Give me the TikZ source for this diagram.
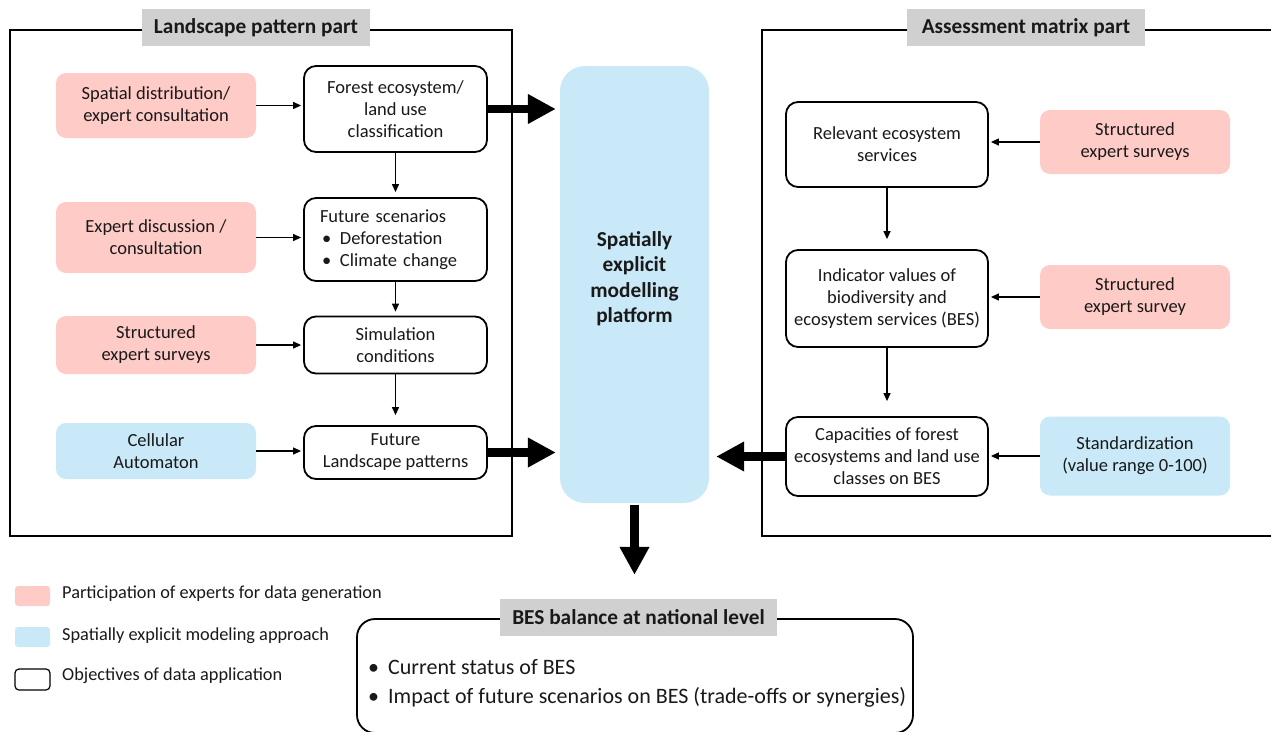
\documentclass[tikz,border=0pt]{standalone}
\usepackage{fontspec}
\setmainfont{Carlito}
\usetikzlibrary{arrows.meta}
\definecolor{expertpink}{RGB}{255,203,199}
\definecolor{modelblue}{RGB}{201,232,248}
\definecolor{titlegray}{RGB}{208,208,208}

\begin{document}
\begin{tikzpicture}[x=1pt,y=1pt,yscale=-1,
	every node/.style={font=\fontsize{18.5}{22}\selectfont,text=black!90},
	whitebox/.style={draw,line width=1.8pt,rounded corners=12pt,fill=white,align=center,inner sep=0pt},
	pinkbox/.style={fill=expertpink,rounded corners=10pt,align=center,inner sep=0pt},
	bluebox/.style={fill=modelblue,rounded corners=10pt,align=center,inner sep=0pt},
	parttitle/.style={fill=titlegray,inner sep=0pt,font=\bfseries\fontsize{21.3}{24}\selectfont},
	legendtext/.style={anchor=west,inner sep=0pt,font=\fontsize{18.3}{20}\selectfont},
	frame/.style={line width=1.5pt},
	flow/.style={line width=1.2pt,-{Triangle[length=8pt,width=7pt]},shorten >=2pt},
	bigflow/.style={line width=8.5pt,-{Triangle[length=28pt,width=28pt]},shorten >=4pt}]

	\useasboundingbox (0,0) rectangle (1271,731);

	\draw[frame] (10,30) rectangle (512,536);
	\draw[frame] (1271,30) -| (762,536) -- (1271,536);

	\node (landtitle) at (256,27.5) [parttitle,minimum width=228pt,minimum height=37pt] {Landscape pattern part};
	\node (matrixtitle) at (1026,27.5) [parttitle,minimum width=238pt,minimum height=37pt] {Assessment matrix part};

	\node (spatial) at (156,105.5) [pinkbox,minimum width=200pt,minimum height=65pt] {Spatial distribution/\\expert consultation};
	\node (discussion) at (156,237.5) [pinkbox,minimum width=200pt,minimum height=71pt] {Expert discussion /\\consultation};
	\node (surveysL) at (156,345) [pinkbox,minimum width=200pt,minimum height=58pt] {Structured\\expert surveys};
	\node (cellular) at (156,451) [bluebox,minimum width=200pt,minimum height=56pt] {Cellular\\Automaton};

	\node (forest) at (395.5,109) [whitebox,minimum width=183pt,minimum height=86pt] {Forest ecosystem/\\land use\\classification};
	\node (scenarios) at (395.5,239.5) [whitebox,align=left,text width=151pt,inner xsep=16pt,minimum height=83pt] {Future scenarios\\\hspace*{2pt}\makebox[18pt][l]{\textbullet}Deforestation\\\hspace*{2pt}\makebox[18pt][l]{\textbullet}Climate change};
	\node (simulation) at (395.5,345) [whitebox,minimum width=183pt,minimum height=57pt] {Simulation\\conditions};
	\node (future) at (395.5,452.5) [whitebox,minimum width=183pt,minimum height=53pt] {Future\\Landscape patterns};

	\node (platform) at (634.5,284.5) [bluebox,rounded corners=25pt,minimum width=149pt,minimum height=437pt,font=\bfseries\fontsize{21.3}{25.5}\selectfont] {Spatially\\explicit\\modelling\\platform\\[-11pt]\mbox{}};

	\node (relevant) at (887,144.5) [whitebox,minimum width=202pt,minimum height=85pt] {Relevant ecosystem\\services};
	\node (indicator) at (887,298.5) [whitebox,minimum width=202pt,minimum height=97pt] {Indicator values of\\biodiversity and\\ecosystem services (BES)};
	\node (capacities) at (887,456.5) [whitebox,minimum width=202pt,minimum height=79pt] {Capacities of forest\\ecosystems and land use\\classes on BES};

	\node (surveysR) at (1135,142) [pinkbox,minimum width=190pt,minimum height=64pt] {Structured\\expert surveys};
	\node (surveyR) at (1135,297) [pinkbox,minimum width=190pt,minimum height=64pt] {Structured\\expert survey};
	\node (standard) at (1135,456) [bluebox,minimum width=190pt,minimum height=79pt] {Standardization\\(value range 0-100)};

	\draw[flow] (spatial.east) -- (spatial.east -| forest.west);
	\draw[flow] (discussion.east) -- (discussion.east -| scenarios.west);
	\draw[flow] (surveysL.east) -- (surveysL.east -| simulation.west);
	\draw[flow] (cellular.east) -- (cellular.east -| future.west);
	\draw[flow,shorten >=5pt] (forest) -- (scenarios);
	\draw[flow,shorten >=4pt] (scenarios) -- (simulation);
	\draw[flow,shorten >=10pt] (simulation) -- (future);

	\draw[flow] (surveysR.west) -- (surveysR.west -| relevant.east);
	\draw[flow] (surveyR.west) -- (surveyR.west -| indicator.east);
	\draw[flow] (standard.west) -- (standard.west -| capacities.east);
	\draw[flow,shorten >=10pt] (relevant) -- (indicator);
	\draw[flow,shorten >=15pt] (indicator) -- (capacities);

	\draw[bigflow] (forest.east) -- (forest.east -| platform.west);
	\draw[bigflow] (future.east) -- (future.east -| platform.west);
	\draw[bigflow,shorten >=7pt] (capacities.west) -- (capacities.west -| platform.east);

	\node (bes) at (635,676) [draw,line width=1.8pt,rounded corners=18pt,minimum width=556pt,minimum height=114pt] {};
	\node (bestitle) at (638.5,617.5) [parttitle,minimum width=277pt,minimum height=37pt] {BES balance at national level};
	\node (beslist) at (368,683.5) [anchor=west,align=left,inner sep=0pt,font=\fontsize{22}{29}\selectfont] {\makebox[20pt][l]{\textbullet}Current status of BES\\\makebox[20pt][l]{\textbullet}Impact of future scenarios on BES (trade-offs or synergies)};
	\draw[bigflow,shorten <=2pt,shorten >=24pt] (platform.south) -- (platform.south |- bestitle.north);

	\node (legpink) at (32.5,596) [fill=expertpink,rounded corners=3pt,minimum width=35pt,minimum height=20pt,inner sep=0pt] {};
	\node (legblue) at (32.5,637) [fill=modelblue,rounded corners=3pt,minimum width=35pt,minimum height=20pt,inner sep=0pt] {};
	\node (legwhite) at (32.5,679.5) [draw,line width=1.2pt,rounded corners=4pt,minimum width=35pt,minimum height=21pt,inner sep=0pt] {};
	\node (legpinktext) at (62,594) [legendtext] {Participation of experts for data generation};
	\node (legbluetext) at (62,636) [legendtext] {Spatially explicit modeling approach};
	\node (legwhitetext) at (62,676) [legendtext] {Objectives of data application};

\end{tikzpicture}
\end{document}
